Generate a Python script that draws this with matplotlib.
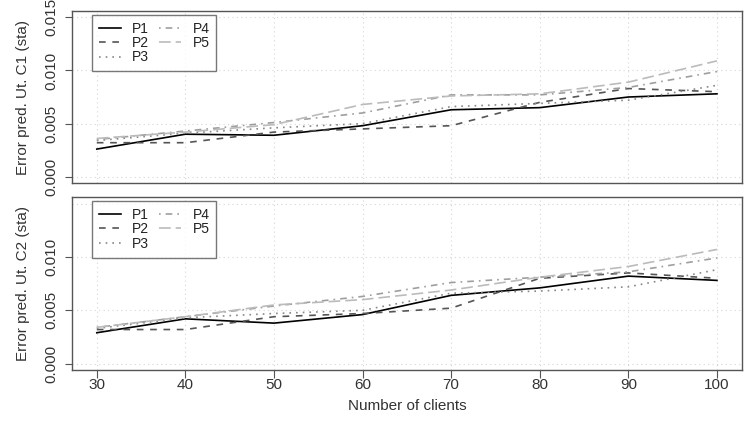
import matplotlib
matplotlib.use("Agg")
import matplotlib.pyplot as plt

plt.rcParams['font.family'] = ['Liberation Sans', 'DejaVu Sans']

clients = [30, 40, 50, 60, 70, 80, 90, 100]
series_names = ["P1", "P2", "P3", "P4", "P5"]

c1_p1 = [0.0026, 0.0040, 0.0039, 0.0048, 0.0063, 0.0065, 0.0075, 0.0078]
c1_p2 = [0.0032, 0.0032, 0.0042, 0.0045, 0.0048, 0.0070, 0.0083, 0.0080]
c1_p3 = [0.0034, 0.0041, 0.0046, 0.0050, 0.0066, 0.0069, 0.0072, 0.0086]
c1_p4 = [0.0035, 0.0043, 0.0051, 0.0060, 0.0077, 0.0077, 0.0084, 0.0099]
c1_p5 = [0.0036, 0.0042, 0.0049, 0.0068, 0.0076, 0.0078, 0.0089, 0.0109]

c2_p1 = [0.0029, 0.0042, 0.0038, 0.0046, 0.0064, 0.0071, 0.0082, 0.0078]
c2_p2 = [0.0032, 0.0032, 0.0044, 0.0047, 0.0052, 0.0080, 0.0085, 0.0080]
c2_p3 = [0.0033, 0.0043, 0.0047, 0.0050, 0.0066, 0.0068, 0.0072, 0.0088]
c2_p4 = [0.0034, 0.0044, 0.0054, 0.0063, 0.0076, 0.0081, 0.0086, 0.0099]
c2_p5 = [0.0034, 0.0044, 0.0055, 0.0060, 0.0069, 0.0081, 0.0091, 0.0107]

x_ticks = [30, 40, 50, 60, 70, 80, 90, 100]
y_grid = [0.000, 0.005, 0.010, 0.015]
top_yticks = [0.000, 0.005, 0.010, 0.015]
bottom_yticks = [0.000, 0.005, 0.010]

colors = ["#000000", "#555555", "#888888", "#9e9e9e", "#bbbbbb"]
styles = ["-", (0, (4, 4)), (0, (1, 3)), (0, (1, 3, 4, 3)), (0, (7, 3))]
widths = [1.2, 1.2, 1.2, 1.2, 1.2]

fig = plt.figure(figsize=(7.5, 4.38), dpi=100)
ax1 = fig.add_axes([0.096, 0.582, 0.893, 0.393])
ax2 = fig.add_axes([0.096, 0.155, 0.893, 0.395])

frame_col = "#555555"
text_col = "#333333"

def style(ax, yticks, ylabel, show_x):
    ax.set_xlim(27.2, 102.8)
    ax.set_ylim(-0.0006, 0.0156)
    for g in x_ticks:
        ax.axvline(g, color="#d6d6d6", lw=0.8, ls=(0, (1, 3)), zorder=0)
    for g in y_grid:
        ax.axhline(g, color="#d6d6d6", lw=0.8, ls=(0, (1, 3)), zorder=0)
    ax.set_yticks(yticks)
    ax.set_yticklabels(["%.3f" % v for v in yticks], rotation=90, va="center",
                       fontsize=11, color=text_col)
    ax.tick_params(axis="y", direction="out", length=5, color=frame_col, pad=5)
    if show_x:
        ax.set_xticks(x_ticks)
        ax.set_xticklabels([str(v) for v in x_ticks], fontsize=11, color=text_col)
        ax.tick_params(axis="x", direction="out", length=5.5, color=frame_col, pad=0.5)
        ax.set_xlabel("Number of clients", fontsize=11, color=text_col, labelpad=5)
    else:
        ax.set_xticks([])
    ax.set_ylabel(ylabel, fontsize=11, color=text_col, labelpad=10)
    for s in ax.spines.values():
        s.set_color(frame_col)
        s.set_linewidth(1.0)

def draw(ax, data):
    for name, vals, c, ls, lw in zip(series_names, data, colors, styles, widths):
        ax.plot(clients, vals, color=c, ls=ls, lw=lw, label=name)
    leg = ax.legend(loc="upper left", ncol=2, fontsize=10, frameon=True, fancybox=False,
                    edgecolor=frame_col, handlelength=1.55, handletextpad=0.85,
                    columnspacing=0.7, labelspacing=0.02, borderpad=0.5,
                    borderaxespad=0, bbox_to_anchor=(0.03, 0.977))
    leg.get_frame().set_linewidth(1.0)
    for t in leg.get_texts():
        t.set_color("#222222")

draw(ax1, [c1_p1, c1_p2, c1_p3, c1_p4, c1_p5])
draw(ax2, [c2_p1, c2_p2, c2_p3, c2_p4, c2_p5])
style(ax1, top_yticks, "Error pred. Ut. C1 (sta)", False)
style(ax2, bottom_yticks, "Error pred. Ut. C2 (sta)", True)

fig.savefig("out.png", dpi=100)
